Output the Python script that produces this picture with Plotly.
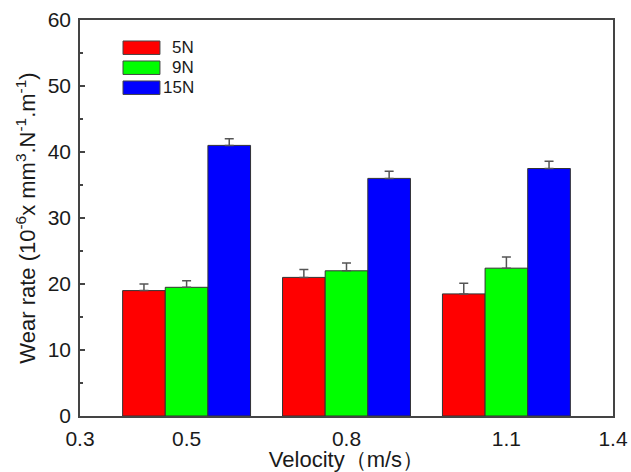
import plotly.graph_objects as go

velocity = [0.5, 0.8, 1.1]
loads = ["5N", "9N", "15N"]
wear_5n = [19.0, 21.0, 18.5]
wear_9n = [19.5, 22.0, 22.4]
wear_15n = [41.0, 36.0, 37.5]
err_5n = [1.0, 1.2, 1.6]
err_9n = [1.0, 1.2, 1.7]
err_15n = [1.0, 1.1, 1.1]
x_tickvals = [0.3, 0.5, 0.8, 1.1, 1.3]
x_ticktext = ["0.3", "0.5", "0.8", "1.1", "1.4"]

colors = ["#ff0000", "#00ff00", "#0000ff"]
series = [wear_5n, wear_9n, wear_15n]
errors = [err_5n, err_9n, err_15n]

FONT = "Liberation Sans, Arial, sans-serif"
AXCOL = "#444444"
TXT = "#1a1a1a"

fig = go.Figure()
for name, vals, errs, col in zip(loads, series, errors, colors):
    fig.add_trace(go.Bar(
        x=velocity, y=vals, name=name,
        marker=dict(color=col, line=dict(color="#333333", width=1)),
        error_y=dict(type="data", array=errs, arrayminus=[0] * len(errs),
                     symmetric=False, color="#555555", thickness=1.5, width=4.5),
        showlegend=False,
    ))

# legend drawn as boxes + labels (Origin-style)
box_x0, box_x1 = 0.0807, 0.150
row_top = 0.947
row_h = 0.034
row_step = 0.0505
for i, (name, col) in enumerate(zip(loads, colors)):
    y1 = row_top - i * row_step
    y0 = y1 - row_h
    fig.add_shape(type="rect", xref="paper", yref="paper",
                  x0=box_x0, x1=box_x1, y0=y0, y1=y1,
                  fillcolor=col, line=dict(color="#444444", width=1))
    fig.add_annotation(xref="paper", yref="paper", x=0.2176, y=(y0 + y1) / 2,
                       text=name, showarrow=False, xanchor="right", yanchor="middle",
                       font=dict(family=FONT, size=17, color=TXT))

fig.update_layout(
    width=631, height=472,
    margin=dict(l=80, r=18, t=20, b=56),
    paper_bgcolor="white", plot_bgcolor="white",
    barmode="group", bargap=0.2, bargroupgap=0,
    font=dict(family=FONT, size=21, color=TXT),
)
fig.update_xaxes(
    range=[0.3, 1.3], tickvals=x_tickvals, ticktext=x_ticktext,
    ticks="", showgrid=False, zeroline=False, automargin=False,
    showline=True, linecolor=AXCOL, linewidth=1.5, mirror=True,
    tickfont=dict(family=FONT, size=21, color=TXT),
    ticklabelstandoff=3,
    title=dict(text="Velocity（m/s）", standoff=1,
               font=dict(family=FONT, size=22, color=TXT)),
)
fig.update_yaxes(
    range=[0, 60], dtick=10, ticks="inside", ticklen=5, tickwidth=1.5, tickcolor=AXCOL,
    minor=dict(dtick=5, ticks="inside", ticklen=3, tickwidth=1.5, tickcolor=AXCOL),
    showgrid=False, zeroline=False, automargin=False,
    showline=True, linecolor=AXCOL, linewidth=1.5, mirror=True,
    tickfont=dict(family=FONT, size=21, color=TXT),
    ticklabelstandoff=3,
    title=dict(text="Wear rate (10<sup>-6</sup>x mm<sup>3</sup>.N<sup>-1</sup>.m<sup>-1</sup>)",
               standoff=6, font=dict(family=FONT, size=22, color=TXT)),
)

fig.write_html("out.html", config={"displayModeBar": False},
               post_script="document.body.style.margin='0';document.body.style.padding='0';")
